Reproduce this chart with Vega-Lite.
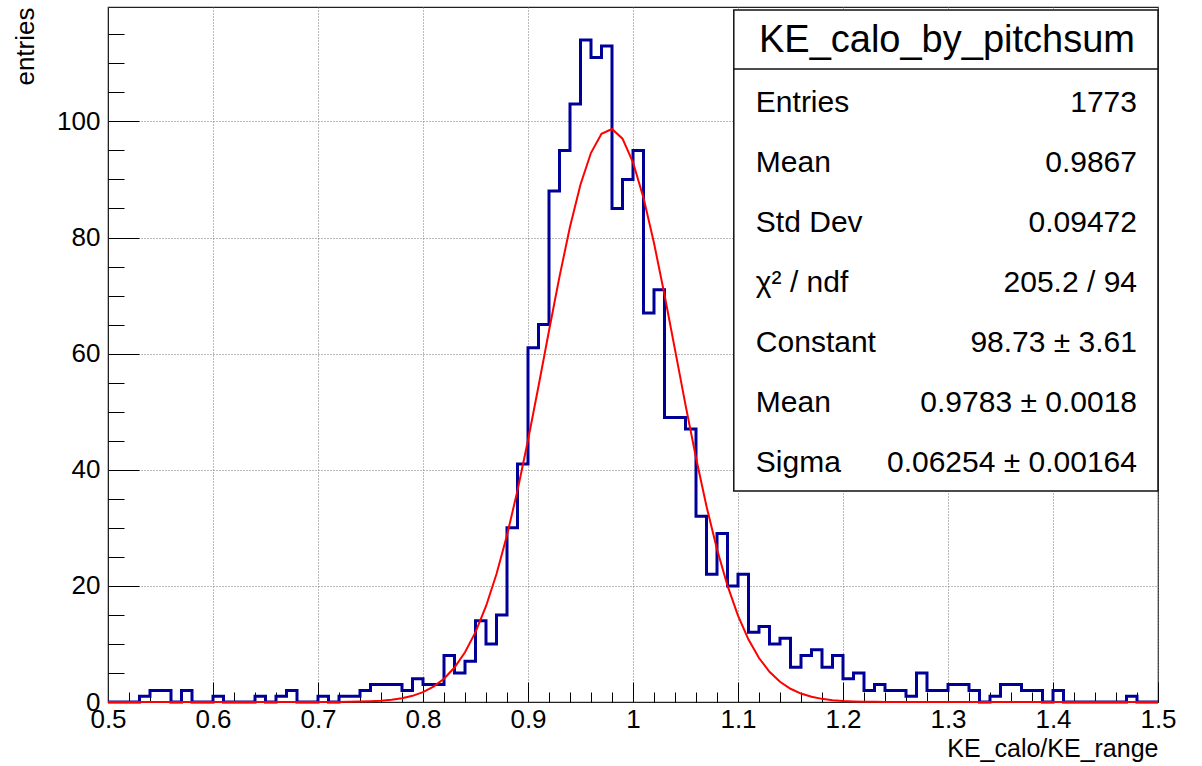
{
  "$schema": "https://vega.github.io/schema/vega-lite/v6.json",
  "width": 1050,
  "height": 695,
  "autosize": {"type": "none"},
  "padding": {"left": 108, "top": 7, "right": 44, "bottom": 64},
  "background": "white",
  "config": {
    "view": {"stroke": "#222", "strokeWidth": 1.2},
    "font": "Liberation Sans, Arial, sans-serif",
    "axis": {
      "labelFont": "Liberation Sans, Arial, sans-serif",
      "titleFont": "Liberation Sans, Arial, sans-serif",
      "labelColor": "#000",
      "titleColor": "#000",
      "tickColor": "#000",
      "domainColor": "#222",
      "titleFontWeight": "normal"
    }
  },
  "datasets": {
    "hist": [
      {"x": 0.50, "n": 0}, {"x": 0.51, "n": 0}, {"x": 0.52, "n": 0}, {"x": 0.53, "n": 1}, {"x": 0.54, "n": 2},
      {"x": 0.55, "n": 2}, {"x": 0.56, "n": 0}, {"x": 0.57, "n": 2}, {"x": 0.58, "n": 0}, {"x": 0.59, "n": 0},
      {"x": 0.60, "n": 1}, {"x": 0.61, "n": 0}, {"x": 0.62, "n": 0}, {"x": 0.63, "n": 0}, {"x": 0.64, "n": 1},
      {"x": 0.65, "n": 0}, {"x": 0.66, "n": 1}, {"x": 0.67, "n": 2}, {"x": 0.68, "n": 0}, {"x": 0.69, "n": 0},
      {"x": 0.70, "n": 1}, {"x": 0.71, "n": 0}, {"x": 0.72, "n": 1}, {"x": 0.73, "n": 1}, {"x": 0.74, "n": 2},
      {"x": 0.75, "n": 3}, {"x": 0.76, "n": 3}, {"x": 0.77, "n": 3}, {"x": 0.78, "n": 2}, {"x": 0.79, "n": 4},
      {"x": 0.80, "n": 3}, {"x": 0.81, "n": 3}, {"x": 0.82, "n": 8}, {"x": 0.83, "n": 5}, {"x": 0.84, "n": 7},
      {"x": 0.85, "n": 14}, {"x": 0.86, "n": 10}, {"x": 0.87, "n": 15}, {"x": 0.88, "n": 30}, {"x": 0.89, "n": 41},
      {"x": 0.90, "n": 61}, {"x": 0.91, "n": 65}, {"x": 0.92, "n": 88}, {"x": 0.93, "n": 95}, {"x": 0.94, "n": 103},
      {"x": 0.95, "n": 114}, {"x": 0.96, "n": 111}, {"x": 0.97, "n": 113}, {"x": 0.98, "n": 85}, {"x": 0.99, "n": 90},
      {"x": 1.00, "n": 95}, {"x": 1.01, "n": 67}, {"x": 1.02, "n": 71}, {"x": 1.03, "n": 49}, {"x": 1.04, "n": 49},
      {"x": 1.05, "n": 47}, {"x": 1.06, "n": 32}, {"x": 1.07, "n": 22}, {"x": 1.08, "n": 29}, {"x": 1.09, "n": 20},
      {"x": 1.10, "n": 22}, {"x": 1.11, "n": 12}, {"x": 1.12, "n": 13}, {"x": 1.13, "n": 10}, {"x": 1.14, "n": 11},
      {"x": 1.15, "n": 6}, {"x": 1.16, "n": 8}, {"x": 1.17, "n": 9}, {"x": 1.18, "n": 6}, {"x": 1.19, "n": 8},
      {"x": 1.20, "n": 4}, {"x": 1.21, "n": 5}, {"x": 1.22, "n": 2}, {"x": 1.23, "n": 3}, {"x": 1.24, "n": 2},
      {"x": 1.25, "n": 2}, {"x": 1.26, "n": 1}, {"x": 1.27, "n": 5}, {"x": 1.28, "n": 2}, {"x": 1.29, "n": 2},
      {"x": 1.30, "n": 3}, {"x": 1.31, "n": 3}, {"x": 1.32, "n": 2}, {"x": 1.33, "n": 0}, {"x": 1.34, "n": 1},
      {"x": 1.35, "n": 3}, {"x": 1.36, "n": 3}, {"x": 1.37, "n": 2}, {"x": 1.38, "n": 2}, {"x": 1.39, "n": 0},
      {"x": 1.40, "n": 2}, {"x": 1.41, "n": 0}, {"x": 1.42, "n": 0}, {"x": 1.43, "n": 0}, {"x": 1.44, "n": 0},
      {"x": 1.45, "n": 0}, {"x": 1.46, "n": 0}, {"x": 1.47, "n": 1}, {"x": 1.48, "n": 0}, {"x": 1.49, "n": 0},
      {"x": 1.50, "n": 0}
    ],
    "fit": [
      {"x": 0.50, "f": 0}, {"x": 0.51, "f": 0}, {"x": 0.52, "f": 0}, {"x": 0.53, "f": 0}, {"x": 0.54, "f": 0},
      {"x": 0.55, "f": 0}, {"x": 0.56, "f": 0}, {"x": 0.57, "f": 0}, {"x": 0.58, "f": 0}, {"x": 0.59, "f": 0},
      {"x": 0.60, "f": 0}, {"x": 0.61, "f": 0}, {"x": 0.62, "f": 0}, {"x": 0.63, "f": 0}, {"x": 0.64, "f": 0},
      {"x": 0.65, "f": 0}, {"x": 0.66, "f": 0}, {"x": 0.67, "f": 0}, {"x": 0.68, "f": 0}, {"x": 0.69, "f": 0.002},
      {"x": 0.70, "f": 0.005}, {"x": 0.71, "f": 0.01}, {"x": 0.72, "f": 0.02}, {"x": 0.73, "f": 0.037}, {"x": 0.74, "f": 0.069},
      {"x": 0.75, "f": 0.126}, {"x": 0.76, "f": 0.223}, {"x": 0.77, "f": 0.385}, {"x": 0.78, "f": 0.648}, {"x": 0.79, "f": 1.061},
      {"x": 0.80, "f": 1.696}, {"x": 0.81, "f": 2.641}, {"x": 0.82, "f": 4.010}, {"x": 0.83, "f": 5.934}, {"x": 0.84, "f": 8.562},
      {"x": 0.85, "f": 12.04}, {"x": 0.86, "f": 16.50}, {"x": 0.87, "f": 22.04}, {"x": 0.88, "f": 28.71}, {"x": 0.89, "f": 36.44},
      {"x": 0.90, "f": 45.09}, {"x": 0.91, "f": 54.38}, {"x": 0.92, "f": 63.94}, {"x": 0.93, "f": 73.27}, {"x": 0.94, "f": 81.85},
      {"x": 0.95, "f": 89.12}, {"x": 0.96, "f": 94.59}, {"x": 0.97, "f": 97.86}, {"x": 0.98, "f": 98.69}, {"x": 0.99, "f": 97.02},
      {"x": 1.00, "f": 92.96}, {"x": 1.01, "f": 86.83}, {"x": 1.02, "f": 79.05}, {"x": 1.03, "f": 70.15}, {"x": 1.04, "f": 60.69},
      {"x": 1.05, "f": 51.17}, {"x": 1.06, "f": 42.06}, {"x": 1.07, "f": 33.70}, {"x": 1.08, "f": 26.32}, {"x": 1.09, "f": 20.03},
      {"x": 1.10, "f": 14.87}, {"x": 1.11, "f": 10.75}, {"x": 1.12, "f": 7.58}, {"x": 1.13, "f": 5.21}, {"x": 1.14, "f": 3.49},
      {"x": 1.15, "f": 2.28}, {"x": 1.16, "f": 1.45}, {"x": 1.17, "f": 0.90}, {"x": 1.18, "f": 0.54}, {"x": 1.19, "f": 0.32},
      {"x": 1.20, "f": 0.18}, {"x": 1.21, "f": 0.10}, {"x": 1.22, "f": 0.056}, {"x": 1.23, "f": 0.030}, {"x": 1.24, "f": 0.016},
      {"x": 1.25, "f": 0.008}, {"x": 1.26, "f": 0.004}, {"x": 1.27, "f": 0.002}, {"x": 1.28, "f": 0}, {"x": 1.29, "f": 0},
      {"x": 1.30, "f": 0}, {"x": 1.31, "f": 0}, {"x": 1.32, "f": 0}, {"x": 1.33, "f": 0}, {"x": 1.34, "f": 0},
      {"x": 1.35, "f": 0}, {"x": 1.36, "f": 0}, {"x": 1.37, "f": 0}, {"x": 1.38, "f": 0}, {"x": 1.39, "f": 0},
      {"x": 1.40, "f": 0}, {"x": 1.41, "f": 0}, {"x": 1.42, "f": 0}, {"x": 1.43, "f": 0}, {"x": 1.44, "f": 0},
      {"x": 1.45, "f": 0}, {"x": 1.46, "f": 0}, {"x": 1.47, "f": 0}, {"x": 1.48, "f": 0}, {"x": 1.49, "f": 0},
      {"x": 1.50, "f": 0}
    ],
    "statsTitle": [{"row": 0, "label": "KE_calo_by_pitchsum"}],
    "stats": [
      {"row": 1, "label": "Entries", "value": "1773"},
      {"row": 2, "label": "Mean", "value": "0.9867"},
      {"row": 3, "label": "Std Dev", "value": "0.09472"},
      {"row": 4, "label": "χ² / ndf", "value": "205.2 / 94"},
      {"row": 5, "label": "Constant", "value": "98.73 ± 3.61"},
      {"row": 6, "label": "Mean", "value": "0.9783 ± 0.0018"},
      {"row": 7, "label": "Sigma", "value": "0.06254 ± 0.00164"}
    ]
  },
  "layer": [
    {
      "data": {"name": "hist"},
      "mark": {"type": "line", "interpolate": "step-after", "color": "#000099", "strokeWidth": 3},
      "encoding": {
        "x": {
          "field": "x", "type": "quantitative",
          "scale": {"domain": [0.5, 1.5], "nice": false, "zero": false},
          "axis": {
            "orient": "bottom",
            "values": [0.5, 0.6, 0.7, 0.8, 0.9, 1.0, 1.1, 1.2, 1.3, 1.4, 1.5],
            "format": "~g",
            "labelFontSize": 26,
            "labelPadding": 24,
            "labelFlush": false,
            "labelOverlap": false,
            "tickSize": -20,
            "tickWidth": 1,
            "grid": true,
            "gridDash": [1, 2],
            "gridColor": "#777",
            "gridWidth": 1,
            "domain": true,
            "title": "KE_calo/KE_range",
            "titleFontSize": 25,
            "titleAnchor": "end",
            "titlePadding": 4
          }
        },
        "y": {
          "field": "n", "type": "quantitative",
          "scale": {"domain": [0, 119.7], "nice": false, "zero": false},
          "axis": {
            "orient": "left",
            "values": [0, 20, 40, 60, 80, 100],
            "labelFontSize": 26,
            "labelPadding": 39,
            "labelOverlap": false,
            "labelFlush": false,
            "tickSize": -31,
            "tickWidth": 1,
            "grid": true,
            "gridDash": [1, 2],
            "gridColor": "#777",
            "gridWidth": 1,
            "domain": true,
            "title": "entries",
            "titleFontSize": 26,
            "titleAnchor": "end",
            "titlePadding": 18
          }
        }
      }
    },
    {
      "data": {"name": "fit"},
      "mark": {"type": "line", "color": "#ff0000", "strokeWidth": 2},
      "encoding": {
        "x": {
          "field": "x", "type": "quantitative",
          "scale": {"domain": [0.5, 1.5], "nice": false, "zero": false},
          "axis": {
            "orient": "bottom",
            "values": [0.52, 0.54, 0.56, 0.58, 0.62, 0.64, 0.66, 0.68, 0.72, 0.74, 0.76, 0.78, 0.82, 0.84, 0.86, 0.88, 0.92, 0.94, 0.96, 0.98, 1.02, 1.04, 1.06, 1.08, 1.12, 1.14, 1.16, 1.18, 1.22, 1.24, 1.26, 1.28, 1.32, 1.34, 1.36, 1.38, 1.42, 1.44, 1.46, 1.48],
            "labels": false,
            "domain": false,
            "grid": false,
            "tickSize": -10,
            "tickWidth": 1,
            "title": null
          }
        },
        "y": {
          "field": "f", "type": "quantitative",
          "scale": {"domain": [0, 119.7], "nice": false, "zero": false},
          "axis": {
            "orient": "left",
            "values": [5, 10, 15, 25, 30, 35, 45, 50, 55, 65, 70, 75, 85, 90, 95, 105, 110, 115],
            "labels": false,
            "domain": false,
            "grid": false,
            "tickSize": -16,
            "tickWidth": 1,
            "title": null
          }
        }
      }
    },
    {
      "layer": [
        {
          "data": {"name": "statsTitle"},
          "mark": {"type": "rect", "fill": "white", "stroke": "#111", "strokeWidth": 1.5},
          "encoding": {
            "x": {"datum": 1.096, "type": "quantitative", "axis": null},
            "x2": {"datum": 1.5},
            "y": {"datum": -0.7, "type": "quantitative", "axis": null, "scale": {"domain": [-0.75, 10.833], "reverse": true, "nice": false, "zero": false}},
            "y2": {"datum": 7.317}
          }
        },
        {
          "data": {"name": "statsTitle"},
          "mark": {"type": "rule", "stroke": "#111", "strokeWidth": 1.5},
          "encoding": {
            "x": {"datum": 1.096, "type": "quantitative", "axis": null},
            "x2": {"datum": 1.5},
            "y": {"datum": 0.283, "type": "quantitative", "axis": null}
          }
        },
        {
          "data": {"name": "statsTitle"},
          "mark": {"type": "text", "align": "center", "baseline": "alphabetic", "fontSize": 38, "color": "#000"},
          "encoding": {
            "x": {"datum": 1.299, "type": "quantitative", "axis": null},
            "y": {"field": "row", "type": "quantitative", "axis": null},
            "text": {"field": "label"}
          }
        },
        {
          "data": {"name": "stats"},
          "mark": {"type": "text", "align": "left", "baseline": "alphabetic", "fontSize": 30, "color": "#000"},
          "encoding": {
            "x": {"datum": 1.117, "type": "quantitative", "axis": null},
            "y": {"field": "row", "type": "quantitative", "axis": null},
            "text": {"field": "label"}
          }
        },
        {
          "data": {"name": "stats"},
          "mark": {"type": "text", "align": "right", "baseline": "alphabetic", "fontSize": 30, "color": "#000"},
          "encoding": {
            "x": {"datum": 1.48, "type": "quantitative", "axis": null},
            "y": {"field": "row", "type": "quantitative", "axis": null},
            "text": {"field": "value"}
          }
        }
      ]
    }
  ],
  "resolve": {"scale": {"y": "independent"}, "axis": {"x": "independent", "y": "independent"}}
}
